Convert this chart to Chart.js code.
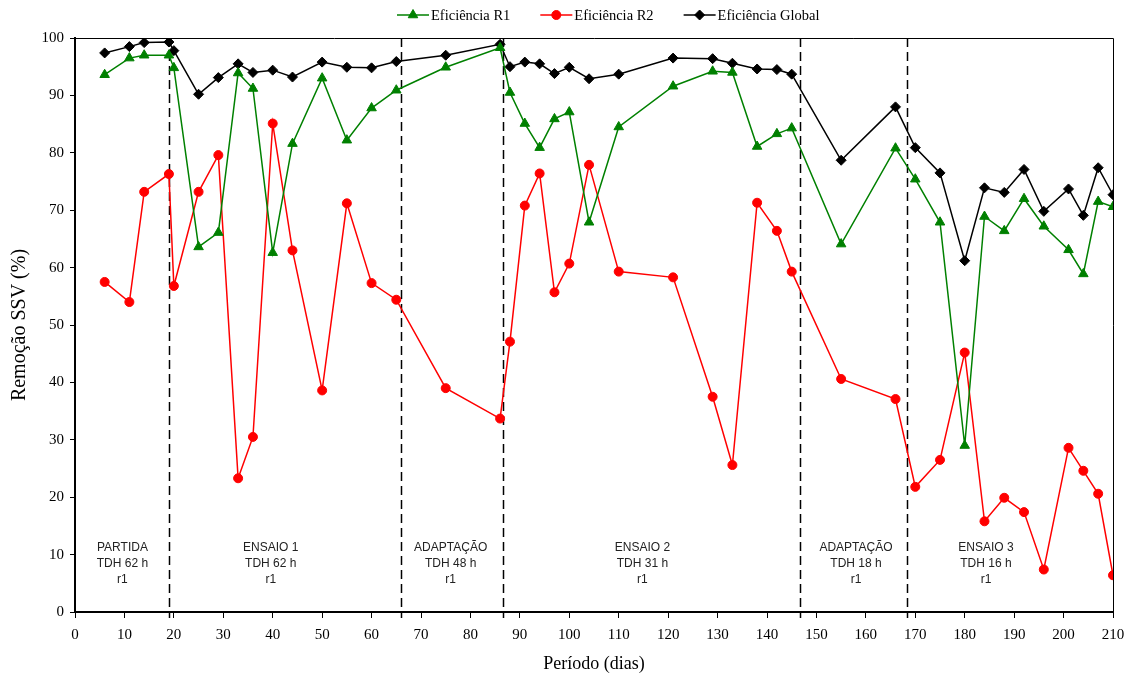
<!DOCTYPE html>
<html>
<head>
<meta charset="utf-8">
<script src="https://cdn.jsdelivr.net/npm/chart.js@4.4.0/dist/chart.umd.min.js"></script>
<style>
  html, body { margin: 0; padding: 0; background: #fff; }
</style>
</head>
<body>
<canvas id="chart" width="1133" height="683"></canvas>
<script>
// sampling days and removal efficiencies (%)
var days = [6, 11, 14, 19, 20, 25, 29, 33, 36, 40, 44, 50, 55, 60, 65, 75, 86, 88, 91, 94, 97, 100,
  104, 110, 121, 129, 133, 138, 142, 145, 155, 166, 170, 175, 180, 184, 188, 192, 196, 201, 204, 207, 210];
var effR1 = [93.6, 96.5, 97.0, 97.0, 94.8, 63.6, 66.1, 93.9, 91.2, 62.6, 81.6, 93.0, 82.2, 87.8, 90.9,
  94.9, 98.3, 90.5, 85.1, 80.9, 85.9, 87.1, 67.9, 84.5, 91.6, 94.2, 94.0, 81.1, 83.3, 84.3,
  64.1, 80.8, 75.4, 67.9, 29.0, 68.9, 66.4, 72.0, 67.2, 63.1, 58.9, 71.5, 70.6];
var effR2 = [57.5, 54.0, 73.2, 76.3, 56.8, 73.2, 79.6, 23.3, 30.5, 85.1, 63.0, 38.6, 71.2, 57.3, 54.4,
  39.0, 33.7, 47.1, 70.8, 76.4, 55.7, 60.7, 77.9, 59.3, 58.3, 37.5, 25.6, 71.3, 66.4, 59.3,
  40.6, 37.1, 21.8, 26.5, 45.2, 15.8, 19.9, 17.4, 7.4, 28.6, 24.6, 20.6, 6.4];
var effGlobal = [97.4, 98.5, 99.2, 99.3, 97.8, 90.2, 93.1, 95.5, 94.0, 94.4, 93.2, 95.8, 94.9, 94.8, 95.9,
  97.0, 98.9, 95.0, 95.8, 95.5, 93.8, 94.9, 92.9, 93.7, 96.5, 96.4, 95.6, 94.6, 94.5, 93.7,
  78.7, 88.0, 80.9, 76.5, 61.2, 73.9, 73.1, 77.1, 69.8, 73.7, 69.1, 77.4, 72.7];

// operating phases
var phaseLimits = [19, 66, 86.6, 146.7, 168.4];
var phaseNames = ['PARTIDA', 'ENSAIO 1', 'ADAPTAÇÃO', 'ENSAIO 2', 'ADAPTAÇÃO', 'ENSAIO 3'];
var phaseTdh = ['TDH 62 h', 'TDH 62 h', 'TDH 48 h', 'TDH 31 h', 'TDH 18 h', 'TDH 16 h'];
var phaseCenters = [9.6, 39.6, 76, 114.8, 158, 184.3];

var serif = '"Liberation Serif", "Times New Roman", serif';
var sans = '"Liberation Sans", Arial, sans-serif';

function toPoints(values) {
  var pts = [];
  for (var i = 0; i < days.length; i++) {
    pts.push({x: days[i], y: values[i]});
  }
  return pts;
}

function series(label, values, color, style, radius) {
  return {
    label: label,
    data: toPoints(values),
    showLine: true,
    borderColor: color,
    backgroundColor: color,
    borderWidth: 1.5,
    pointStyle: style,
    pointRadius: radius,
    pointHoverRadius: radius,
    pointBorderWidth: 1,
    tension: 0
  };
}

var phasesPlugin = {
  id: 'phases',
  beforeDatasetsDraw: function(chart) {
    var ctx = chart.ctx, area = chart.chartArea, xs = chart.scales.x, ys = chart.scales.y;
    ctx.save();
    ctx.strokeStyle = '#000';
    ctx.lineWidth = 1.5;
    ctx.setLineDash([9, 5]);
    phaseLimits.forEach(function(d) {
      var px = Math.round(xs.getPixelForValue(d)) + 0.5;
      ctx.beginPath();
      ctx.moveTo(px, area.top);
      ctx.lineTo(px, area.bottom + 6);
      ctx.stroke();
    });
    ctx.setLineDash([]);

    ctx.fillStyle = '#222';
    ctx.font = '12px ' + sans;
    ctx.textAlign = 'center';
    ctx.textBaseline = 'middle';
    for (var i = 0; i < phaseNames.length; i++) {
      var cx = xs.getPixelForValue(phaseCenters[i]);
      ctx.fillText(phaseNames[i], cx, ys.getPixelForValue(11.2));
      ctx.fillText(phaseTdh[i], cx, ys.getPixelForValue(8.4));
      ctx.fillText('r1', cx, ys.getPixelForValue(5.6));
    }
    ctx.restore();
  },
  afterDraw: function(chart) {
    // thin frame on top and right
    var ctx = chart.ctx, a = chart.chartArea;
    ctx.save();
    ctx.strokeStyle = '#000';
    ctx.lineWidth = 1;
    ctx.beginPath();
    ctx.moveTo(a.left, a.top + 0.5);
    ctx.lineTo(a.right + 0.5, a.top + 0.5);
    ctx.lineTo(a.right + 0.5, a.bottom);
    ctx.stroke();
    ctx.restore();
  }
};

// legend with a short line through each marker
var lineLegend = {
  id: 'lineLegend',
  afterDraw: function(chart) {
    var ctx = chart.ctx;
    var x = 397, y = 15;
    ctx.save();
    ctx.font = '14.5px ' + serif;
    ctx.textBaseline = 'middle';
    ctx.textAlign = 'left';
    chart.data.datasets.forEach(function(ds) {
      ctx.strokeStyle = ds.borderColor;
      ctx.fillStyle = ds.backgroundColor;
      ctx.lineWidth = 1.5;
      ctx.beginPath();
      ctx.moveTo(x, y);
      ctx.lineTo(x + 32, y);
      ctx.stroke();
      ctx.lineWidth = 1;
      Chart.helpers.drawPoint(ctx, {pointStyle: ds.pointStyle, radius: ds.pointRadius, rotation: 0, borderWidth: 1}, x + 16, y);
      ctx.fillStyle = '#000';
      ctx.fillText(ds.label, x + 34, y + 1);
      x += 34 + ctx.measureText(ds.label).width + 30;
    });
    ctx.restore();
  }
};

new Chart(document.getElementById('chart'), {
  type: 'scatter',
  data: {
    datasets: [
      series('Eficiência R1', effR1, '#008000', 'triangle', 5.5),
      series('Eficiência R2', effR2, '#ff0000', 'circle', 4.5),
      series('Eficiência Global', effGlobal, '#000000', 'rectRot', 5)
    ]
  },
  options: {
    responsive: false,
    animation: false,
    layout: {padding: {top: 38, right: 20, left: 0, bottom: 0}},
    plugins: {
      legend: {display: false},
      tooltip: {enabled: false}
    },
    scales: {
      x: {
        type: 'linear',
        min: 0,
        max: 210,
        afterFit: function(s) { s.height = 71; },
        ticks: {stepSize: 10, color: '#000', padding: 8, font: {family: serif, size: 15}},
        grid: {drawOnChartArea: false, drawTicks: true, tickLength: 6, color: '#000'},
        border: {color: '#000', width: 2},
        title: {display: true, text: 'Período (dias)', color: '#000', font: {family: serif, size: 18}, padding: {top: 0, bottom: 8}}
      },
      y: {
        min: 0,
        max: 100,
        afterFit: function(s) { s.width = 75; },
        ticks: {stepSize: 10, color: '#000', padding: 6, font: {family: serif, size: 15}},
        grid: {drawOnChartArea: false, drawTicks: true, tickLength: 5, color: '#000'},
        border: {color: '#000', width: 2},
        title: {display: true, text: 'Remoção SSV (%)', color: '#000', font: {family: serif, size: 20}, padding: {top: 8, bottom: 0}}
      }
    }
  },
  plugins: [phasesPlugin, lineLegend]
});
</script>
</body>
</html>
